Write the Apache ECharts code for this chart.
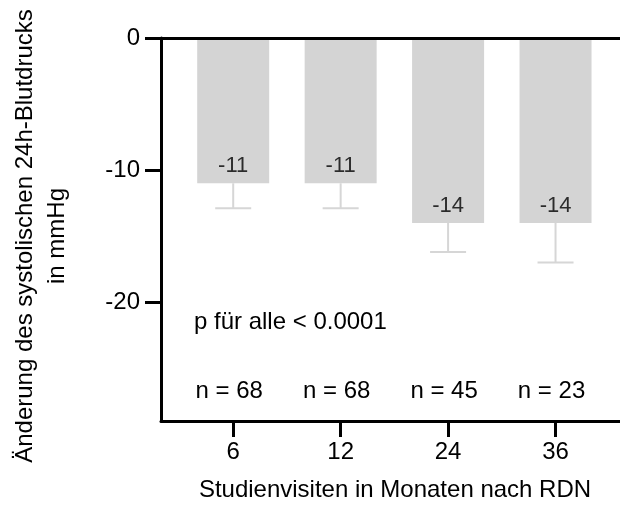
<!DOCTYPE html>
<html>
<head>
<meta charset="utf-8">
<script src="https://cdn.jsdelivr.net/npm/echarts@6/dist/echarts.min.js"></script>
<style>
  html, body { margin: 0; padding: 0; background: #fff; }
  #chart { width: 620px; height: 510px; }
</style>
</head>
<body>
<div id="chart"></div>
<script>
// Visits (months after RDN) and mean change of 24h systolic BP in mmHg
const categories = ['6', '12', '24', '36'];
const meanChange = [-11, -11, -14, -14];
const errorLower = [-12.9, -12.9, -16.2, -17.0];
const sampleSizes = [68, 68, 45, 23];
const yTickValues = [0, -10, -20];
const pNote = 'p für alle < 0.0001';
const yTitle = 'Änderung des systolischen 24h-Blutdrucks\nin mmHg';
const xTitle = 'Studienvisiten in Monaten nach RDN';

const FONT = '"Liberation Sans", Arial, sans-serif';
const FS = 24;
const BAR_GRAY = '#d4d4d4';
const catIdx = categories.map((_, i) => i);

const chart = echarts.init(document.getElementById('chart'), null, { renderer: 'canvas' });

const axisLineStyle = { color: '#000', width: 3 };
const tickStyle = { color: '#000', width: 3 };

chart.setOption({
  animation: false,
  backgroundColor: '#fff',
  textStyle: { fontFamily: FONT },
  grid: { left: 161, right: 0, top: 38, bottom: 89, containLabel: false },
  xAxis: [
    {
      type: 'value', position: 'bottom', min: -0.672, max: 3.6,
      axisLine: { show: true, onZero: false, lineStyle: axisLineStyle },
      axisTick: { show: true, length: 16, lineStyle: tickStyle, customValues: catIdx },
      axisLabel: {
        show: true, margin: 19, fontSize: FS, color: '#000', fontFamily: FONT,
        customValues: catIdx,
        formatter: v => categories[Math.round(v)]
      },
      splitLine: { show: false },
      z: 5
    },
    {
      type: 'value', position: 'top', min: -0.672, max: 3.6,
      axisLine: { show: true, onZero: false, lineStyle: axisLineStyle },
      axisTick: { show: false }, axisLabel: { show: false }, splitLine: { show: false },
      z: 5
    }
  ],
  yAxis: {
    type: 'value', min: -29, max: 0,
    axisLine: { show: true, onZero: false, lineStyle: axisLineStyle },
    axisTick: { show: true, length: 16, lineStyle: tickStyle, customValues: yTickValues },
    axisLabel: { show: true, margin: 21, fontSize: FS, color: '#000', fontFamily: FONT, customValues: yTickValues },
    splitLine: { show: false },
    z: 5
  },
  series: [
    {
      type: 'bar', xAxisIndex: 0,
      data: meanChange.map((v, i) => [i, v]),
      barWidth: 72,
      itemStyle: { color: BAR_GRAY },
      z: 1
    },
    {
      // lower error whiskers with caps
      type: 'custom', xAxisIndex: 0,
      data: meanChange.map((v, i) => [i, v, errorLower[i]]),
      renderItem: (params, api) => {
        const top = api.coord([api.value(0), api.value(1)]);
        const bot = api.coord([api.value(0), api.value(2)]);
        const style = { stroke: '#d6d6d6', lineWidth: 2, fill: null };
        return {
          type: 'group',
          children: [
            { type: 'line', shape: { x1: top[0], y1: top[1], x2: bot[0], y2: bot[1] }, style },
            { type: 'line', shape: { x1: bot[0] - 18, y1: bot[1], x2: bot[0] + 18, y2: bot[1] }, style }
          ]
        };
      },
      z: 2
    },
    {
      // value labels just above the bar ends
      type: 'scatter', xAxisIndex: 0,
      data: meanChange.map((v, i) => [i, v]),
      symbolSize: 0,
      label: {
        show: true, position: 'top', distance: 6,
        fontSize: FS - 2, color: '#000', fontFamily: FONT,
        formatter: p => String(p.value[1])
      },
      z: 3
    },
    {
      // sample sizes along the lower part of the plot
      type: 'custom', xAxisIndex: 0,
      data: sampleSizes.map((n, i) => [i, n]),
      renderItem: (params, api) => {
        const x = api.coord([api.value(0), 0])[0];
        const cs = params.coordSys;
        return {
          type: 'text',
          style: {
            x: x - 4, y: cs.y + cs.height - 30,
            text: 'n = ' + api.value(1),
            fill: '#000', font: FS + 'px ' + FONT,
            textAlign: 'center', textVerticalAlign: 'middle'
          }
        };
      },
      z: 3
    }
  ],
  graphic: [
    {
      type: 'text', x: 194, y: 322,
      style: { text: pNote, fill: '#000', font: FS + 'px ' + FONT, textVerticalAlign: 'middle' }
    },
    {
      type: 'text', x: 395, y: 490,
      style: { text: xTitle, fill: '#000', font: FS + 'px ' + FONT, textAlign: 'center', textVerticalAlign: 'middle' }
    },
    {
      type: 'text', x: 41, y: 236, rotation: Math.PI / 2,
      style: {
        text: yTitle, fill: '#000', font: FS + 'px ' + FONT, lineHeight: 32,
        textAlign: 'center', textVerticalAlign: 'middle'
      }
    }
  ]
});
</script>
</body>
</html>
